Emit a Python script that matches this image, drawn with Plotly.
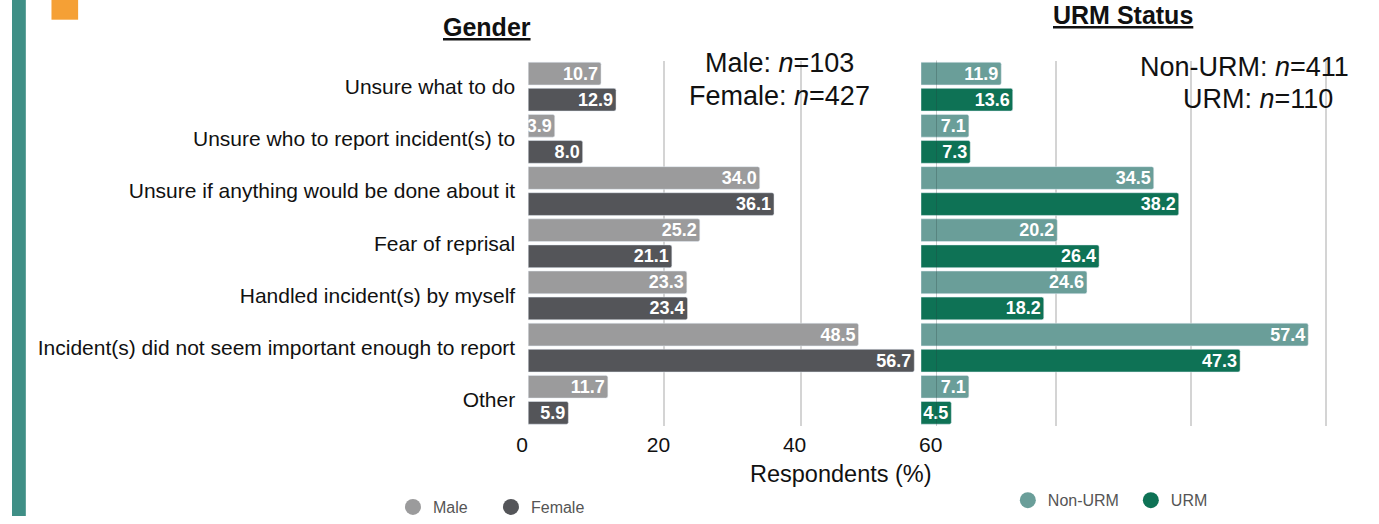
import plotly.graph_objects as go

W, H = 1379, 524

categories = [
    "Unsure what to do",
    "Unsure who to report incident(s) to",
    "Unsure if anything would be done about it",
    "Fear of reprisal",
    "Handled incident(s) by myself",
    "Incident(s) did not seem important enough to report",
    "Other",
]
male = [10.7, 3.9, 34.0, 25.2, 23.3, 48.5, 11.7]
female = [12.9, 8.0, 36.1, 21.1, 23.4, 56.7, 5.9]
non_urm = [11.9, 7.1, 34.5, 20.2, 24.6, 57.4, 7.1]
urm = [13.6, 7.3, 38.2, 26.4, 18.2, 47.3, 4.5]
tick_vals = [0, 20, 40, 60]
tick_text = ["0", "20", "40", "60"]

C_MALE = "#9b9b9c"
C_FEMALE = "#545559"
C_NONURM = "#6a9e99"
C_URM = "#0e7255"
FONT = "Liberation Sans, Arial, sans-serif"


def px(x):
    return x / W


def py(y):
    return 1 - y / H


fig = go.Figure()

bar_common = dict(
    orientation="h",
    texttemplate="%{x:.1f}",
    textposition="inside",
    insidetextanchor="end",
    constraintext="none",
    textfont=dict(color="white", size=18, family=FONT, weight="bold"),
    showlegend=False,
    hoverinfo="skip",
    marker_cornerradius=2,
)

fig.add_trace(go.Bar(y=categories, x=male, marker_color=C_MALE, xaxis="x", yaxis="y", **bar_common))
fig.add_trace(go.Bar(y=categories, x=female, marker_color=C_FEMALE, xaxis="x", yaxis="y", **bar_common))
fig.add_trace(go.Bar(y=categories, x=non_urm, marker_color=C_NONURM, xaxis="x2", yaxis="y2", **bar_common))
fig.add_trace(go.Bar(y=categories, x=urm, marker_color=C_URM, xaxis="x2", yaxis="y2", **bar_common))

# legend entries (circle markers)
for name, col, lg, ax in [("Male", C_MALE, "legend", "x"), ("Female", C_FEMALE, "legend", "x"),
                          ("Non-URM", C_NONURM, "legend2", "x2"), ("URM", C_URM, "legend2", "x2")]:
    fig.add_trace(go.Scatter(x=[None], y=[None], mode="markers", name=name,
                             marker=dict(color=col, size=20, symbol="circle"),
                             xaxis=ax, yaxis="y" if ax == "x" else "y2", legend=lg, showlegend=True))

ydom = [py(432.5), py(61.5)]
grid_col = "#d4d4d4"

fig.update_layout(
    width=W, height=H,
    margin=dict(l=0, r=0, t=0, b=0),
    paper_bgcolor="white", plot_bgcolor="rgba(0,0,0,0)",
    font=dict(family=FONT, color="#111"),
    barmode="group", bargap=0.0, bargroupgap=0.13,
    xaxis=dict(domain=[px(523), px(937)], range=[0, 60], tickvals=tick_vals, ticktext=tick_text,
               showgrid=True, gridcolor=grid_col, gridwidth=1.5, zeroline=False, showline=False,
               ticks="", tickfont=dict(size=21, color="#111"), ticklabelshift=-6, ticklabelstandoff=4,
               anchor="y", fixedrange=True),
    yaxis=dict(domain=ydom, categoryorder="array", categoryarray=categories, autorange="reversed",
               showgrid=False, zeroline=False, showline=False, ticks="",
               tickfont=dict(size=21, color="#111"), ticklabelstandoff=12, anchor="x"),
    xaxis2=dict(domain=[px(921), px(1338)], range=[0, 61], tickvals=[20, 40, 60],
                showticklabels=False, showgrid=True, gridcolor=grid_col, gridwidth=1.5,
                zeroline=False, showline=False, ticks="", anchor="y2"),
    yaxis2=dict(domain=ydom, categoryorder="array", categoryarray=categories, autorange="reversed",
                showgrid=False, zeroline=False, showline=False, showticklabels=False, ticks="",
                anchor="x2"),
    legend=dict(orientation="h", x=px(386), y=py(515), xanchor="left", yanchor="middle",
                font=dict(size=16, color="#555"), entrywidth=53, bgcolor="rgba(0,0,0,0)"),
    legend2=dict(orientation="h", x=px(1009), y=py(508), xanchor="left", yanchor="middle",
                 font=dict(size=16, color="#555"), entrywidth=78, bgcolor="rgba(0,0,0,0)"),
)

# decorations
fig.add_shape(type="rect", xref="paper", yref="paper", x0=0, x1=px(14), y0=0, y1=1,
              fillcolor="#3f8f86", line_width=0, layer="above")
fig.add_shape(type="rect", xref="paper", yref="paper", x0=px(40), x1=px(67), y0=py(20), y1=1,
              fillcolor="#f5a035", line_width=0, layer="above")
fig.add_shape(type="line", xref="x", yref="paper", x0=60, x1=60, y0=ydom[0], y1=ydom[1],
              line=dict(color="rgba(40,60,60,0.35)", width=1.5), layer="above")

ann = [
    ("Gender", 481, 27, 25, True),
    ("URM Status", 1126, 15, 25, True),
]
for t, x, y, s, u in ann:
    fig.add_annotation(text=f"<b>{t}</b>", x=px(x), y=py(y), xref="paper", yref="paper",
                       showarrow=False, xanchor="center", yanchor="middle",
                       font=dict(size=s, color="#111", lineposition="under"))

for t, x, y in [("Male: <i>n</i>=103", 778, 64), ("Female: <i>n</i>=427", 778, 97),
                ("Non-URM: <i>n</i>=411", 1249, 68), ("URM: <i>n</i>=110", 1262, 101)]:
    fig.add_annotation(text=t, x=px(x), y=py(y), xref="paper", yref="paper", showarrow=False,
                       xanchor="center", yanchor="middle", font=dict(size=27, color="#111"))

fig.add_annotation(text="Respondents (%)", x=px(840), y=py(481), xref="paper", yref="paper",
                   showarrow=False, xanchor="center", yanchor="middle",
                   font=dict(size=23.5, color="#111"))

fig.write_html("out.html", config={"displayModeBar": False},
               post_script="document.body.style.margin='0';document.body.style.overflow='hidden';")
